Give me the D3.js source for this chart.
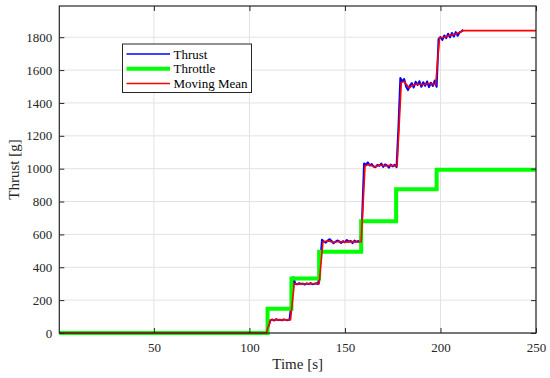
<!DOCTYPE html>
<html>
<head>
<meta charset="utf-8">
<script src="https://cdn.jsdelivr.net/npm/d3@7"></script>
<style>
  html, body { margin: 0; padding: 0; background: #fff; }
  svg { display: block; font-family: "Liberation Serif", "Times New Roman", serif; }
  .grid line { stroke: #e3e3e3; stroke-width: 1; }
</style>
</head>
<body>
<svg id="chart" width="550" height="378"></svg>
<script>
// ── Data ─────────────────────────────────────────────────────────────────

const xTicks = [50, 100, 150, 200, 250];
const yTicks = [0, 200, 400, 600, 800, 1000, 1200, 1400, 1600, 1800];

// measured thrust (blue), one sample per second once the motor starts
const thrustTime = [0.5, 109, 110, 111, 112, 113, 114, 115, 116, 117, 118, 119, 120, 121,
  122, 123, 124, 125, 126, 127, 128, 129, 130, 131, 132, 133, 134, 135, 136,
  137, 138, 139, 140, 141, 142, 143, 144, 145, 146, 147, 148, 149, 150, 151, 152, 153, 154, 155, 156, 157, 158,
  159, 160, 161, 162, 163, 164, 165, 166, 167, 168, 169, 170, 171, 172, 173, 174, 175, 176, 177,
  178, 179, 180, 181, 182, 183, 184, 185, 186, 187, 188, 189, 190, 191, 192, 193, 194, 195, 196, 197, 198,
  199, 200, 201, 202, 203, 204, 205, 206, 207, 208, 209, 210, 211, 212];
const thrustValues = [0, 0, 40, 78, 82, 76, 84, 79, 81, 77, 83, 80, 78, 82,
  180, 340, 300, 296, 303, 298, 301, 295, 302, 298, 304, 297, 300, 303, 298,
  420, 568, 556, 550, 563, 571, 560, 546, 555, 563, 557, 548, 559, 552, 566, 556, 561, 547, 562, 554, 560, 550,
  700, 1032, 1024, 1038, 1019, 1028, 1013, 1009, 1023, 1017, 1031, 1011, 1026, 1020, 1006, 1025, 1014, 1023, 1009,
  1250, 1552, 1530, 1546, 1500, 1478, 1506, 1521, 1494, 1529, 1509, 1532, 1498, 1526, 1504, 1531, 1496, 1523, 1504, 1536, 1498,
  1790, 1801, 1784, 1811, 1794, 1821, 1799, 1826, 1804, 1831, 1809, 1829, 1836, 1846];

// throttle command (green), step changes
const throttleTime = [0.5, 109.5, 122, 136.5, 158.5, 176.8, 198, 250];
const throttleValues = [0, 148, 331, 495, 680, 875, 993, 993];

// moving mean of thrust (red)
const meanTime = [0.5, 108.8, 111, 114, 118, 121.5, 123.5, 126, 130, 134, 136.5, 138.5, 141, 144, 147, 150,
  153, 156, 158.5, 160.5, 162, 164, 166, 168, 171, 174, 177.3, 179.5, 181, 183.5, 186, 188, 191, 194, 197.5,
  199.5, 202, 205, 208, 212, 250];
const meanValues = [0, 0, 80, 80, 80, 80, 300, 298, 300, 300, 300, 555, 560, 552, 557, 553,
  556, 554, 555, 1015, 1025, 1018, 1012, 1022, 1016, 1020, 1015, 1525, 1530, 1492, 1510, 1515, 1512, 1518, 1512,
  1795, 1800, 1812, 1820, 1840, 1840];

const legendLabels = ['Thrust', 'Throttle', 'Moving Mean'];

// ── Layout ───────────────────────────────────────────────────────────────

const MARGINS = {top: 6, right: 14, bottom: 45, left: 59.3};
const WIDTH = 550;
const HEIGHT = 378;
const TICK_LEN = 5;

const svg = d3.select('#chart');

const xScale = d3.scaleLinear()
  .domain([0.5, 250])
  .range([MARGINS.left, WIDTH - MARGINS.right]);

const yScale = d3.scaleLinear()
  .domain([0, 1990])
  .range([HEIGHT - MARGINS.bottom, MARGINS.top]);

const [x0, x1] = xScale.range();
const [y0, y1] = yScale.range();

// grid
const grid = svg.append('g').attr('class', 'grid');
grid.selectAll('.gx').data(xTicks).join('line')
  .attr('x1', (d) => xScale(d)).attr('x2', (d) => xScale(d))
  .attr('y1', y1).attr('y2', y0);
grid.selectAll('.gy').data(yTicks).join('line')
  .attr('x1', x0).attr('x2', x1)
  .attr('y1', (d) => yScale(d)).attr('y2', (d) => yScale(d));

// lines
const lineOf = (times, values, curve) => d3.line()
  .x((d, i) => xScale(times[i]))
  .y((d) => yScale(d))
  .curve(curve)(values);

const plot = svg.append('g');

plot.append('path')
  .attr('d', lineOf(thrustTime, thrustValues, d3.curveLinear))
  .attr('fill', 'none').attr('stroke', '#0000ff').attr('stroke-width', 2)
  .attr('stroke-linejoin', 'round');

plot.append('path')
  .attr('d', lineOf(throttleTime, throttleValues, d3.curveStepAfter))
  .attr('fill', 'none').attr('stroke', '#00ff00').attr('stroke-width', 4);

plot.append('path')
  .attr('d', lineOf(meanTime, meanValues, d3.curveLinear))
  .attr('fill', 'none').attr('stroke', '#ff0000').attr('stroke-width', 1.6)
  .attr('stroke-linejoin', 'round');

// axes, ticks inward on all four sides
const fmt = d3.format('d');
const xAxisBottom = d3.axisBottom(xScale).tickValues(xTicks).tickFormat(fmt).tickSizeInner(-TICK_LEN).tickSizeOuter(0).tickPadding(10);
const xAxisTop = d3.axisTop(xScale).tickValues(xTicks).tickSizeInner(-TICK_LEN).tickSizeOuter(0).tickFormat('');
const yAxisLeft = d3.axisLeft(yScale).tickValues(yTicks).tickFormat(fmt).tickSizeInner(-TICK_LEN).tickSizeOuter(0).tickPadding(7);
const yAxisRight = d3.axisRight(yScale).tickValues(yTicks).tickSizeInner(-TICK_LEN).tickSizeOuter(0).tickFormat('');

const styleAxis = (g) =>
{
  g.attr('font-family', null).attr('font-size', 13);
  g.select('.domain').remove();
  g.selectAll('.tick line').attr('stroke', '#262626').attr('stroke-width', 1);
  g.selectAll('.tick text').attr('fill', '#262626');
};

svg.append('g').attr('transform', `translate(0,${y0})`).call(xAxisBottom).call(styleAxis);
svg.append('g').attr('transform', `translate(0,${y1})`).call(xAxisTop).call(styleAxis);
svg.append('g').attr('transform', `translate(${x0},0)`).call(yAxisLeft).call(styleAxis);
svg.append('g').attr('transform', `translate(${x1},0)`).call(yAxisRight).call(styleAxis);

svg.append('rect')
  .attr('x', x0).attr('y', y1)
  .attr('width', x1 - x0).attr('height', y0 - y1)
  .attr('fill', 'none').attr('stroke', '#262626').attr('stroke-width', 1.2);

// axis titles
svg.append('text')
  .attr('x', (x0 + x1) / 2).attr('y', 369)
  .attr('text-anchor', 'middle').attr('fill', '#262626').attr('font-size', 15)
  .text('Time [s]');

svg.append('text')
  .attr('transform', `translate(19,${(y0 + y1) / 2}) rotate(-90)`)
  .attr('text-anchor', 'middle').attr('fill', '#262626').attr('font-size', 15)
  .text('Thrust [g]');

// legend
const legend = svg.append('g').attr('transform', 'translate(122.5,44)');
legend.append('rect')
  .attr('width', 129).attr('height', 48.5)
  .attr('fill', '#fff').attr('stroke', '#262626').attr('stroke-width', 1);

const legendColors = ['#0000ff', '#00ff00', '#ff0000'];
const legendWidths = [1.6, 4, 1.6];
const legendScale = d3.scalePoint().domain(legendLabels).range([10, 39.5]);

legendLabels.forEach((label, i) =>
{
  const y = legendScale(label);
  legend.append('line')
    .attr('x1', 4).attr('x2', 47.5).attr('y1', y).attr('y2', y)
    .attr('stroke', legendColors[i]).attr('stroke-width', legendWidths[i]);
  legend.append('text')
    .attr('x', 51).attr('y', y + 4.5)
    .attr('fill', '#000').attr('font-size', 13)
    .text(label);
});
</script>
</body>
</html>
